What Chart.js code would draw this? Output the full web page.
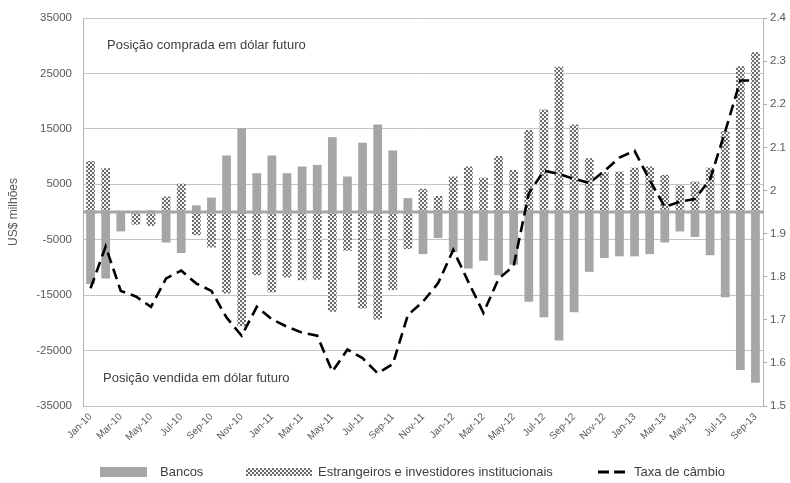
<!DOCTYPE html>
<html>
<head>
<meta charset="utf-8">
<script src="https://cdn.jsdelivr.net/npm/chart.js@4.4.0/dist/chart.umd.min.js"></script>
<style>
html,body{margin:0;padding:0;background:#fff;}
#c{display:block;}
</style>
</head>
<body>
<canvas id="c" width="790" height="483"></canvas>
<script>
const categories = [
  "Jan-10","Feb-10","Mar-10","Apr-10","May-10","Jun-10","Jul-10","Aug-10","Sep-10","Oct-10","Nov-10","Dec-10",
  "Jan-11","Feb-11","Mar-11","Apr-11","May-11","Jun-11","Jul-11","Aug-11","Sep-11","Oct-11","Nov-11","Dec-11",
  "Jan-12","Feb-12","Mar-12","Apr-12","May-12","Jun-12","Jul-12","Aug-12","Sep-12","Oct-12","Nov-12","Dec-12",
  "Jan-13","Feb-13","Mar-13","Apr-13","May-13","Jun-13","Jul-13","Aug-13","Sep-13"
];
const bancos = [
  -13000,-12000,-3500,200,300,-5500,-7400,1200,2600,10200,15100,7000,
  10200,7000,8200,8500,13500,6400,12500,15800,11100,2500,-7600,-4700,
  -7200,-10200,-8800,-11400,-9500,-16200,-19000,-23200,-18100,-10800,-8300,-8000,
  -8000,-7600,-5500,-3500,-4500,-7800,-15400,-28500,-30800
];
const estrangeiros = [
  9200,7900,200,-2300,-2500,2800,5100,-4200,-6400,-14700,-20600,-11400,
  -14500,-11800,-12300,-12200,-18000,-7000,-17400,-19400,-14100,-6700,4200,2900,
  6400,8200,6200,10100,7600,14800,18500,26200,15800,9700,7200,7300,
  8000,8200,6700,4800,5500,8000,14600,26300,28800
];
const taxaCambio = [
  1.773,1.870,1.767,1.754,1.730,1.796,1.814,1.784,1.767,1.705,1.663,1.730,
  1.701,1.684,1.670,1.663,1.580,1.631,1.611,1.576,1.597,1.711,1.742,1.785,
  1.862,1.788,1.716,1.795,1.825,1.993,2.046,2.038,2.027,2.017,2.045,2.076,
  2.092,2.024,1.962,1.974,1.980,2.026,2.137,2.255,2.255
];
const leftTicks = [-35000,-25000,-15000,-5000,5000,15000,25000,35000];
const rightTicks = [1.5,1.6,1.7,1.8,1.9,2.0,2.1,2.2,2.3,2.4];
const seriesNames = ["Bancos","Estrangeiros e investidores institucionais","Taxa de câmbio"];
const annotations = [
  {text:"Posição comprada em dólar futuro", value:30000},
  {text:"Posição vendida em dólar futuro", value:-30000}
];

const FONT = '"Liberation Sans", Arial, Helvetica, sans-serif';
Chart.defaults.font.family = FONT;

function makePattern(){
  const p = document.createElement('canvas');
  p.width = 4; p.height = 4;
  const g = p.getContext('2d');
  g.fillStyle = '#f4f4f4'; g.fillRect(0,0,4,4);
  g.fillStyle = '#6a6a6a';
  g.fillRect(0,0,2,2); g.fillRect(2,2,2,2);
  return document.getElementById('c').getContext('2d').createPattern(p,'repeat');
}
const checker = makePattern();
const GRAY = '#a6a6a6';

const zeroLine = {
  id:'zeroLine',
  beforeDatasetDraw(chart, args){
    if (chart.data.datasets[args.index].type !== 'line') return;
    const y = chart.scales.y.getPixelForValue(0);
    const ctx = chart.ctx, a = chart.chartArea;
    ctx.save();
    ctx.strokeStyle = GRAY; ctx.lineWidth = 3;
    ctx.beginPath(); ctx.moveTo(a.left, y); ctx.lineTo(a.right, y); ctx.stroke();
    ctx.restore();
  }
};

const notes = {
  id:'notes',
  afterDraw(chart){
    const ctx = chart.ctx, a = chart.chartArea, ys = chart.scales.y;
    ctx.save();
    ctx.font = '13px ' + FONT;
    ctx.fillStyle = '#404040';
    ctx.textBaseline = 'middle';
    ctx.textAlign = 'left';
    annotations.forEach((n,i) => {
      ctx.fillText(n.text, a.left + (i === 0 ? 24 : 20), ys.getPixelForValue(n.value));
    });
    ctx.restore();
  }
};

const legendPlugin = {
  id:'customLegend',
  afterDraw(chart){
    const ctx = chart.ctx, ds = chart.data.datasets;
    const y = 472;
    ctx.save();
    ctx.font = '13px ' + FONT;
    ctx.textBaseline = 'middle';
    ctx.textAlign = 'left';
    // Bancos
    ctx.fillStyle = ds[0].backgroundColor;
    ctx.fillRect(100, y - 5, 47, 10);
    ctx.fillStyle = '#404040';
    ctx.fillText(ds[0].label, 160, y);
    // Estrangeiros
    ctx.fillStyle = ds[1].backgroundColor;
    ctx.fillRect(246, y - 4, 66, 8);
    ctx.fillStyle = '#404040';
    ctx.fillText(ds[1].label, 318, y);
    // Taxa
    ctx.strokeStyle = ds[2].borderColor;
    ctx.lineWidth = 3;
    ctx.setLineDash([11, 5]);
    ctx.beginPath(); ctx.moveTo(598, y); ctx.lineTo(625, y); ctx.stroke();
    ctx.setLineDash([]);
    ctx.fillStyle = '#404040';
    ctx.fillText(ds[2].label, 634, y);
    ctx.restore();
  }
};

new Chart(document.getElementById('c'), {
  data: {
    labels: categories,
    datasets: [
      { type:'bar', label: seriesNames[0], data: bancos, backgroundColor: GRAY, borderWidth: 0,
        grouped:false, barPercentage:0.58, categoryPercentage:1.0, yAxisID:'y', order:1 },
      { type:'bar', label: seriesNames[1], data: estrangeiros, backgroundColor: checker, borderWidth: 0,
        grouped:false, barPercentage:0.58, categoryPercentage:1.0, yAxisID:'y', order:2 },
      { type:'line', label: seriesNames[2], data: taxaCambio, borderColor:'#000000', borderWidth:2.6,
        borderDash:[11,6], pointRadius:0, fill:false, tension:0, yAxisID:'y1', order:0 }
    ]
  },
  options: {
    responsive:false,
    animation:false,
    devicePixelRatio:1,
    layout:{ padding:{ top:18, left:0, right:0, bottom:0 } },
    plugins:{ legend:{ display:false }, tooltip:{ enabled:false } },
    scales:{
      x:{
        offset:true,
        grid:{ display:false, drawTicks:false },
        border:{ display:true, color:'#c0c0c0' },
        ticks:{ autoSkip:false, maxRotation:45, minRotation:45, padding:5, color:'#595959',
          font:{ size:10 },
          callback:(v,i) => i % 2 === 0 ? categories[i] : '' },
        afterFit:(s) => { s.height = 77; }
      },
      y:{
        position:'left',
        min:-35000, max:35000,
        afterBuildTicks:(s) => { s.ticks = leftTicks.map(v => ({value:v})); },
        grid:{ color:'#c4c4c4', lineWidth:1, drawTicks:false },
        border:{ display:true, color:'#b4b4b4' },
        ticks:{ padding:11, color:'#595959', font:{ size:11.5 }, callback:(v) => String(v) },
        title:{ display:true, text:'US$ milhões', color:'#595959', font:{ size:12 }, padding:{ top:6, bottom:0 } },
        afterFit:(s) => { s.width = 83; }
      },
      y1:{
        position:'right',
        min:1.5, max:2.4,
        afterBuildTicks:(s) => { s.ticks = rightTicks.map(v => ({value:v})); },
        grid:{ drawOnChartArea:false, drawTicks:true, tickLength:4, color:'#a6a6a6' },
        border:{ display:true, color:'#b4b4b4' },
        ticks:{ padding:3, color:'#595959', font:{ size:11.5 }, callback:(v) => String(Math.round(v*10)/10) },
        afterFit:(s) => { s.width = 27; }
      }
    }
  },
  plugins:[zeroLine, notes, legendPlugin]
});
</script>
</body>
</html>
